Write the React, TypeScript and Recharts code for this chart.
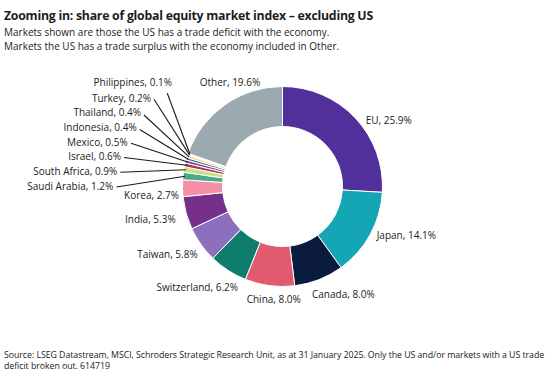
import React from 'react';
import { PieChart, Pie, Cell } from 'recharts';

const markets = [
  'EU', 'Japan', 'Canada', 'China', 'Switzerland', 'Taiwan', 'India', 'Korea',
  'Saudi Arabia', 'South Africa', 'Israel', 'Mexico', 'Indonesia', 'Thailand',
  'Turkey', 'Philippines', 'Other',
];
const shares = [25.9, 14.1, 8.0, 8.0, 6.2, 5.8, 5.3, 2.7, 1.2, 0.9, 0.6, 0.5, 0.4, 0.4, 0.2, 0.1, 19.6];
const sliceColors = [
  '#51309b', '#15a6b5', '#0b1b3d', '#e15a6f', '#0e7d6b', '#8c6fbd', '#772f8c', '#f58fa5',
  '#4aa98d', '#c3e487', '#b8304f', '#7d4fa3', '#4b6a8a', '#e8d98f', '#f2d46a', '#f4e8c0',
  '#9ba9b1',
];

const titleText = 'Zooming in: share of global equity market index \u2013 excluding US';
const subtitleLines = [
  'Markets shown are those the US has a trade deficit with the economy.',
  'Markets the US has a trade surplus with the economy included in Other.',
];
const sourceLines = [
  'Source: LSEG Datastream, MSCI, Schroders Strategic Research Unit, as at 31 January 2025. Only the US and/or markets with a US trade',
  'deficit broken out.  614719',
];

const data = markets.map((name, i) => ({ name, value: shares[i] }));

// label layout, relative to pie centre
type LabelPos = { dx: number; dy: number; anchor: 'start' | 'middle' | 'end'; lx?: number; ly?: number };
const labelLayout: Record<string, LabelPos> = {
  EU: { dx: 83.2, dy: -66.5, anchor: 'start' },
  Japan: { dx: 94.2, dy: 48.5, anchor: 'start' },
  Canada: { dx: 29.5, dy: 107.8, anchor: 'start' },
  China: { dx: -35.8, dy: 112.5, anchor: 'start' },
  Switzerland: { dx: -44.5, dy: 100.2, anchor: 'end' },
  Taiwan: { dx: -84.8, dy: 67.8, anchor: 'end' },
  India: { dx: -106.8, dy: 32.5, anchor: 'end' },
  Korea: { dx: -103.5, dy: 8.5, anchor: 'end' },
  Other: { dx: -52.5, dy: -104.5, anchor: 'middle' },
  Philippines: { dx: -110.5, dy: -104.5, anchor: 'end', lx: -115.2, ly: -93.2 },
  Turkey: { dx: -131.5, dy: -88.8, anchor: 'end', lx: -128.5, ly: -87.2 },
  Thailand: { dx: -141.5, dy: -74.2, anchor: 'end', lx: -138.5, ly: -71.5 },
  Indonesia: { dx: -145.8, dy: -59.2, anchor: 'end', lx: -142.8, ly: -57.0 },
  Mexico: { dx: -154.8, dy: -44.2, anchor: 'end', lx: -151.5, ly: -43.2 },
  Israel: { dx: -161.5, dy: -30.8, anchor: 'end', lx: -158.5, ly: -29.0 },
  'South Africa': { dx: -165.2, dy: -15.5, anchor: 'end', lx: -162.2, ly: -14.2 },
  'Saudi Arabia': { dx: -169.2, dy: -0.8, anchor: 'end', lx: -166.0, ly: 0.5 },
};

const RAD = Math.PI / 180;

const renderLabel = (props: any) => {
  const { cx, cy, midAngle, outerRadius, index } = props;
  const d = data[index];
  const pos = labelLayout[d.name];
  if (!pos) return null;
  const tx = cx + pos.dx;
  const ty = cy + pos.dy;
  let line = null;
  if (pos.lx !== undefined && pos.ly !== undefined) {
    const r = outerRadius - 2;
    const ex = cx + r * Math.cos(-midAngle * RAD);
    const ey = cy + r * Math.sin(-midAngle * RAD);
    line = (
      <line x1={cx + pos.lx} y1={cy + pos.ly} x2={ex} y2={ey} stroke="#1a1a1a" strokeWidth={1.1} />
    );
  }
  return (
    <g key={`lbl-${index}`}>
      {line}
      <text
        x={tx}
        y={ty}
        textAnchor={pos.anchor}
        dominantBaseline="central"
        fontFamily="'Open Sans', 'Noto Sans', sans-serif"
        fontSize={10}
        fill="#222"
      >
        {`${d.name}, ${d.value.toFixed(1)}%`}
      </text>
    </g>
  );
};

export default function App() {
  return (
    <div
      style={{
        position: 'absolute',
        left: 0,
        top: 0,
        width: 553,
        height: 386,
        background: '#fff',
        overflow: 'hidden',
        fontFamily: "'Open Sans', 'Noto Sans', sans-serif",
        color: '#1d1d1b',
      }}
    >
      <div
        style={{
          position: 'absolute',
          left: 4,
          top: 8,
          fontSize: 12.3,
          lineHeight: '16px',
          fontWeight: 700,
          whiteSpace: 'nowrap',
          letterSpacing: -0.25,
        }}
      >
        {titleText}
      </div>
      <div
        style={{
          position: 'absolute',
          left: 4,
          top: 26,
          fontSize: 10,
          lineHeight: '13.7px',
          whiteSpace: 'nowrap',
          color: '#222',
        }}
      >
        {subtitleLines.map((l, i) => (
          <div key={i}>{l}</div>
        ))}
      </div>
      <div style={{ position: 'absolute', left: 0, top: 0 }}>
        <PieChart width={553} height={386}>
          <Pie
            data={data}
            dataKey="value"
            nameKey="name"
            cx={277.5}
            cy={181.5}
            innerRadius={60}
            outerRadius={100}
            startAngle={90}
            endAngle={-270}
            stroke="#ffffff"
            strokeWidth={1}
            label={renderLabel}
            labelLine={false}
            isAnimationActive={false}
          >
            {data.map((d, i) => (
              <Cell key={d.name} fill={sliceColors[i]} />
            ))}
          </Pie>
        </PieChart>
      </div>
      <div
        style={{
          position: 'absolute',
          left: 4,
          top: 349.5,
          fontSize: 8.8,
          lineHeight: '11.5px',
          whiteSpace: 'nowrap',
          color: '#222',
          letterSpacing: -0.06,
        }}
      >
        {sourceLines.map((l, i) => (
          <div key={i}>{l}</div>
        ))}
      </div>
    </div>
  );
}
